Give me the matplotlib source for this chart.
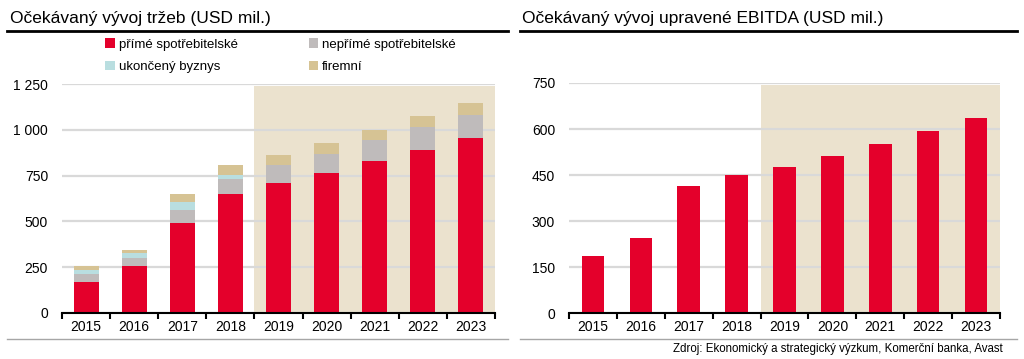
import matplotlib.pyplot as plt
from matplotlib.lines import Line2D

plt.rcParams['font.family'] = ['Liberation Sans', 'DejaVu Sans']

years = ['2015', '2016', '2017', '2018', '2019', '2020', '2021', '2022', '2023']

# revenue split (USD mil.)
prime = [170, 257, 491, 651, 709, 766, 832, 888, 954]
neprime = [42, 44, 71, 80, 97, 104, 113, 130, 129]
ukonceny = [25, 24, 44, 21, 0, 0, 0, 0, 0]
firemni = [18, 18, 45, 54, 58, 60, 56, 60, 66]

# adjusted EBITDA (USD mil.)
ebitda = [186, 244, 414, 449, 477, 512, 550, 593, 636]

series_names = ['přímé spotřebitelské', 'nepřímé spotřebitelské', 'ukončený byznys', 'firemní']
colors = ['#E4002B', '#BFBBBB', '#B9DEE0', '#D6C394']
shade = '#EBE2CE'
grid_c = '#D9D9D9'

fig = plt.figure(figsize=(10.24, 3.59), dpi=100)

ax1 = fig.add_axes([62/1024, 1 - 313/359, 433/1024, 229/359])
ax2 = fig.add_axes([569/1024, 1 - 313.3/359, 431/1024, 230.3/359])

x = range(len(years))

# left: stacked revenue
bottom = [0] * len(years)
handles = []
for vals, name, c in zip([prime, neprime, ukonceny, firemni], series_names, colors):
    b = ax1.bar(x, vals, 0.52, bottom=bottom, color=c, label=name, zorder=3)
    handles.append(b)
    bottom = [p + v for p, v in zip(bottom, vals)]

ax1.set_ylim(0, 1250)
ax1.set_yticks([0, 250, 500, 750, 1000, 1250])
ax1.set_yticklabels(['0', '250', '500', '750', '1 000', '1 250'])

# right: EBITDA
ax2.bar(x, ebitda, 0.47, color=colors[0], zorder=3)
ax2.set_ylim(0, 750)
ax2.set_yticks([0, 150, 300, 450, 600, 750])

for ax in (ax1, ax2):
    ax.set_xlim(-0.5, 8.5)
    ax.axvspan(3.5, 8.5, ymax=0.99, color=shade, zorder=0, lw=0)
    ax.yaxis.grid(True, color=grid_c, lw=1.6, zorder=1)
    ax.set_axisbelow(False)
    for s in ('top', 'right', 'left'):
        ax.spines[s].set_visible(False)
    ax.spines['bottom'].set_linewidth(1.5)
    ax.spines['bottom'].set_zorder(4)
    ax.tick_params(axis='y', length=0, labelsize=10, pad=10)
    ax.set_xticks([i + 0.5 for i in range(-1, 9)], minor=False)
    ax.set_xticklabels([])
    ax.set_xticks(list(x), minor=True)
    ax.set_xticklabels(years, minor=True)
    ax.tick_params(axis='x', which='major', length=4, width=1.5, direction='out')
    ax.tick_params(axis='x', which='minor', length=0, labelsize=10, pad=5)

# legend (column-wise fill gives the 2x2 order)
leg = ax1.legend([handles[0], handles[2], handles[1], handles[3]],
                 [series_names[0], series_names[2], series_names[1], series_names[3]],
                 ncol=2, frameon=False, fontsize=9.5, loc='lower left',
                 bbox_to_anchor=(0.085, 1.02), handlelength=0.7, handleheight=0.7,
                 handletextpad=0.3, columnspacing=5.4, labelspacing=0.75,
                 borderaxespad=0.1)

# titles
fig.text(10/1024, 1 - 18/359, 'Očekávaný vývoj tržeb (USD mil.)', fontsize=12.5, va='center', ha='left')
fig.text(522/1024, 1 - 18/359, 'Očekávaný vývoj upravené EBITDA (USD mil.)', fontsize=12.5, va='center', ha='left')

# separator lines
fig.add_artist(Line2D([7/1024, 508/1024], [1 - 31/359] * 2, color='black', lw=2))
fig.add_artist(Line2D([520/1024, 1017/1024], [1 - 31/359] * 2, color='black', lw=2))
fig.add_artist(Line2D([7/1024, 508/1024], [1 - 339/359] * 2, color='#A6A6A6', lw=1))
fig.add_artist(Line2D([520/1024, 1017/1024], [1 - 339/359] * 2, color='#A6A6A6', lw=1))

fig.text(1003/1024, 1 - 349/359, 'Zdroj: Ekonomický a strategický výzkum, Komerční banka, Avast',
         fontsize=8.3, ha='right', va='center')

fig.savefig('out.png', dpi=100)
